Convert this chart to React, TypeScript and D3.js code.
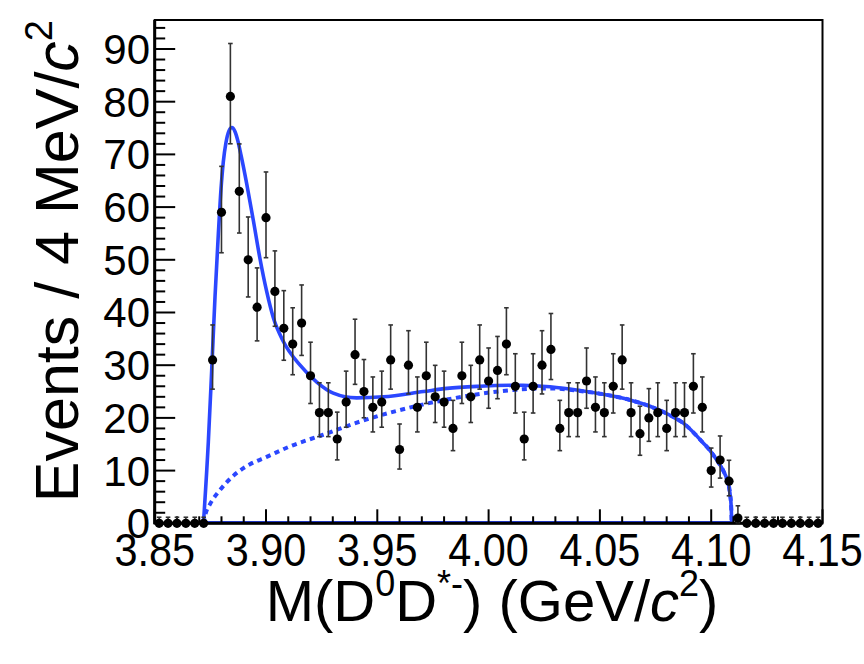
import React from "react";
import * as d3 from "d3";

// ---------------- data ----------------
const massMin = 3.85;
const massMax = 4.15;
const binWidth = 0.004;

// events per 4 MeV bin, 75 bins from 3.85 to 4.15
const counts = [
  0, 0, 0, 0, 0, 0, 31, 59, 81, 63,
  50, 41, 58, 44, 37, 34, 38, 28, 21, 21,
  16, 23, 32, 25, 22, 23, 31, 14, 30, 22,
  28, 24, 23, 18, 28, 24, 31, 27, 29, 34,
  26, 16, 26, 30, 33, 18, 21, 21, 27, 22,
  21, 26, 31, 21, 17, 20, 21, 18, 21, 21,
  26, 22, 10, 12, 8, 1, 0, 0, 0, 0,
  0, 0, 0, 0, 0,
];

// total fit curve (mass, value)
const fitMass = [
  3.8719, 3.8741, 3.8756, 3.8771, 3.8786, 3.8798, 3.8808, 3.882, 3.8834, 3.8847,
  3.8861, 3.8874, 3.8888, 3.8913, 3.8943, 3.8973, 3.9003, 3.9033, 3.9078, 3.9153,
  3.9228, 3.9302, 3.9407, 3.9527, 3.9707, 3.9813, 3.9961, 4.0155, 4.0276, 4.0411,
  4.05, 4.0635, 4.0725, 4.0815, 4.0875, 4.0965, 4.0995, 4.1025, 4.1054, 4.1071,
  4.1084, 4.109, 4.1092,
];
const fitTotal = [
  0, 15.5, 29, 43, 55, 63.5, 68.5, 72.2, 74.5, 75.1,
  74.3, 72.5, 69.8, 64.5, 57.5, 50.2, 44, 39, 34.5, 30,
  26.8, 24.7, 23.8, 24.0, 25.0, 25.6, 26.0, 26.2, 25.9, 25.2,
  24.6, 23.4, 22.2, 20.5, 19.0, 15.2, 13.8, 12.0, 10.0, 8.3,
  5.8, 3.0, 0,
];

// background component (mass, value)
const bkgMass = [
  3.8719, 3.873, 3.8748, 3.8793, 3.8853, 3.8928, 3.9003, 3.9108, 3.9257, 3.9422,
  3.9602, 3.9827, 4.011, 4.0276, 4.0411, 4.05, 4.0635, 4.0725, 4.0815, 4.0875,
  4.0965, 4.0995, 4.1025, 4.1054, 4.1071, 4.1084, 4.109, 4.1092,
];
const bkgValues = [
  0, 2.0, 3.6, 6.3, 9.0, 11.2, 12.6, 14.6, 16.8, 19.3,
  21.5, 23.6, 25.3, 25.6, 25.1, 24.6, 23.4, 22.2, 20.5, 19.0,
  15.2, 13.8, 12.0, 10.0, 8.3, 5.8, 3.0, 0,
];

const xMajorTicks = [3.85, 3.9, 3.95, 4.0, 4.05, 4.1, 4.15];
const xTickLabels = ["3.85", "3.90", "3.95", "4.00", "4.05", "4.10", "4.15"];
const yMajorTicks = [0, 10, 20, 30, 40, 50, 60, 70, 80, 90];
const yTickLabels = ["0", "10", "20", "30", "40", "50", "60", "70", "80", "90"];

// ---------------- helpers ----------------
function poissonErrors(n: number): [number, number] {
  if (n === 0) return [0, 1.148];
  const lo = Math.sqrt(n - 0.25);
  const hi = 1 + Math.sqrt(n + 0.75);
  return [lo, hi];
}

const W = 864;
const H = 664;
const X0 = 154.7;
const X1 = 822.5;
const YTOP = 20;
const YBOT = 523.3;

export default function App() {
  const x = d3.scaleLinear().domain([massMin, massMax]).range([X0, X1]);
  const y = d3.scaleLinear().domain([0, 95.5]).range([YBOT, YTOP]);

  const blue = "#2b47ff";

  const line = d3
    .line<[number, number]>()
    .x((d) => x(d[0]))
    .y((d) => y(d[1]))
    .curve(d3.curveMonotoneX);

  const totalPath = line(fitMass.map((m, i) => [m, fitTotal[i]] as [number, number])) || "";
  const bkgPath = line(bkgMass.map((m, i) => [m, bkgValues[i]] as [number, number])) || "";

  const centers = counts.map((_, i) => massMin + binWidth * (i + 0.5));

  const xMinor = d3.range(0, 31).map((i) => massMin + i * 0.01);
  const yMinor = d3.range(0, 48).map((i) => i * 2);

  const font = "'Liberation Sans', Arial, Helvetica, sans-serif";

  return (
    <svg
      width={W}
      height={H}
      viewBox={`0 0 ${W} ${H}`}
      style={{ position: "absolute", left: 0, top: 0, background: "#fff" }}
      fontFamily={font}
    >
      <rect x={0} y={0} width={W} height={H} fill="#fff" />

      {/* fit baseline */}
      <line
        x1={x(fitMass[0])}
        x2={x(fitMass[fitMass.length - 1])}
        y1={y(0) - 1.5}
        y2={y(0) - 1.5}
        stroke={blue}
        strokeWidth={1.5}
      />

      {/* curves */}
      <path d={bkgPath} fill="none" stroke={blue} strokeWidth={4} strokeDasharray="5 4.5" />
      <path d={totalPath} fill="none" stroke={blue} strokeWidth={3.6} strokeLinejoin="round" />

      {/* frame */}
      <rect x={X0} y={YTOP} width={X1 - X0} height={YBOT - YTOP} fill="none" stroke="#000" strokeWidth={2} />
      <line x1={X0} x2={X0} y1={YTOP} y2={YBOT + 1} stroke="#000" strokeWidth={3} />
      <line x1={X0} x2={X1} y1={YBOT} y2={YBOT} stroke="#000" strokeWidth={3} />

      {/* x ticks */}
      {xMinor.map((t, i) => {
        const major = i % 5 === 0;
        return (
          <line
            key={"xt" + i}
            x1={x(t)}
            x2={x(t)}
            y1={YBOT}
            y2={YBOT - (major ? 14 : 7)}
            stroke="#000"
            strokeWidth={2}
          />
        );
      })}
      {/* y ticks */}
      {yMinor.map((t, i) => {
        const major = i % 5 === 0;
        return (
          <line
            key={"yt" + i}
            x1={X0}
            x2={X0 + (major ? 20.5 : 10.5)}
            y1={y(t)}
            y2={y(t)}
            stroke="#000"
            strokeWidth={2}
          />
        );
      })}

      {/* x tick labels */}
      {xMajorTicks.map((t, i) => (
        <text
          key={"xl" + i}
          x={0}
          y={0}
          transform={`translate(${x(t)},566) scale(0.9,1)`}
          textAnchor="middle"
          fontSize={46}
          fill="#000"
        >
          {xTickLabels[i]}
        </text>
      ))}
      {/* y tick labels */}
      {yMajorTicks.map((t, i) => (
        <text
          key={"yl" + i}
          x={150}
          y={y(t) + 15}
          textAnchor="end"
          fontSize={42}
          fill="#000"
        >
          {yTickLabels[i]}
        </text>
      ))}

      {/* axis titles */}
      <text x={492} y={621} textAnchor="middle" fontSize={58} fill="#000">
        <tspan>M(D</tspan>
        <tspan fontSize={36} dy={-25}>0</tspan>
        <tspan dy={25}>D</tspan>
        <tspan fontSize={36} dy={-25}>*-</tspan>
        <tspan dy={25}>) (GeV/</tspan>
        <tspan fontStyle="italic">c</tspan>
        <tspan fontSize={36} dy={-25}>2</tspan>
        <tspan dy={25}>)</tspan>
      </text>
      <text
        transform="translate(78,20) rotate(-90)"
        textAnchor="end"
        fontSize={61}
        fill="#000"
      >
        <tspan>Events / 4 MeV/</tspan>
        <tspan fontStyle="italic">c</tspan>
        <tspan fontSize={38} dy={-26}>2</tspan>
      </text>

      {/* data points */}
      {counts.map((n, i) => {
        const cx = x(centers[i]);
        const [lo, hi] = poissonErrors(n);
        const yTop = y(n + hi);
        const yLow = y(n - lo);
        return (
          <g key={"p" + i}>
            <line x1={cx} x2={cx} y1={yTop} y2={yLow} stroke="#333" strokeWidth={1.6} />
            <line x1={cx - 2.3} x2={cx + 2.3} y1={yTop} y2={yTop} stroke="#333" strokeWidth={1.6} />
            {n > 0 && (
              <line x1={cx - 2.3} x2={cx + 2.3} y1={yLow} y2={yLow} stroke="#333" strokeWidth={1.6} />
            )}
            <circle cx={cx} cy={y(n)} r={4.6} fill="#000" />
          </g>
        );
      })}
    </svg>
  );
}
